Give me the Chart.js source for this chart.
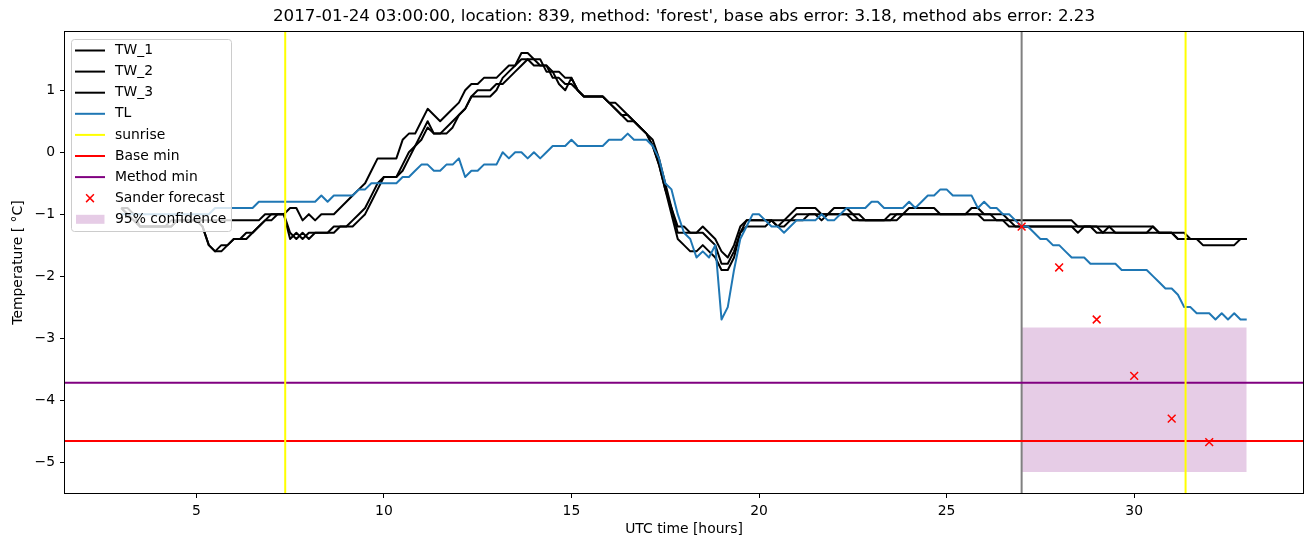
<!DOCTYPE html>
<html>
<head>
<meta charset="utf-8">
<script src="https://cdn.jsdelivr.net/npm/chart.js@4.4.1/dist/chart.umd.min.js"></script>
<style>
  html, body { margin: 0; padding: 0; background: #fff; }
  #wrap { width: 1313px; height: 547px; }
</style>
</head>
<body>
<div id="wrap"><canvas id="chart" width="1313" height="547"></canvas></div>
<script>
// samples every 10 minutes, starting 03:00 (hours since 00:00 of the day before)
const startHour = 3;
const stepHours = 1 / 6;

// one row per hour (6 samples), last value is 33:00
const tw1 = [
  -0.9, -0.9, -1.0, -1.2, -1.2, -1.2,   // 3
  -1.2, -1.2, -1.1, -1.1, -1.1, -1.1,   // 4
  -1.1, -1.1, -1.1, -1.1, -1.1, -1.1,   // 5
  -1.1, -1.1, -1.1, -1.1, -1.1, -1.0,   // 6
  -1.0, -1.0, -1.0, -0.9, -0.9, -1.1,   // 7
  -1.0, -1.1, -1.0, -1.0, -1.0, -0.9,   // 8
  -0.8, -0.7, -0.6, -0.5, -0.3, -0.1,   // 9
  -0.1, -0.1, -0.1, 0.2, 0.3, 0.3,      // 10
  0.5, 0.7, 0.6, 0.5, 0.6, 0.7,         // 11
  0.8, 1.0, 1.1, 1.1, 1.2, 1.2,         // 12
  1.2, 1.3, 1.4, 1.4, 1.5, 1.5,         // 13
  1.5, 1.4, 1.4, 1.3, 1.3, 1.2,         // 14
  1.2, 1.0, 0.9, 0.9, 0.9, 0.9,         // 15
  0.8, 0.7, 0.6, 0.6, 0.5, 0.4,         // 16
  0.3, 0.1, -0.2, -0.6, -0.9, -1.2,     // 17
  -1.2, -1.3, -1.3, -1.2, -1.3, -1.4,   // 18
  -1.6, -1.7, -1.5, -1.2, -1.1, -1.1,   // 19
  -1.1, -1.1, -1.1, -1.2, -1.1, -1.0,   // 20
  -0.9, -0.9, -0.9, -0.9, -1.0, -1.0,   // 21
  -0.9, -0.9, -0.9, -1.0, -1.1, -1.1,   // 22
  -1.1, -1.1, -1.1, -1.1, -1.0, -1.0,   // 23
  -0.9, -0.9, -0.9, -0.9, -0.9, -1.0,   // 24
  -1.0, -1.0, -1.0, -1.0, -0.9, -0.9,   // 25
  -1.0, -1.0, -1.0, -1.0, -1.1, -1.1,   // 26
  -1.1, -1.1, -1.1, -1.1, -1.1, -1.1,   // 27
  -1.1, -1.1, -1.1, -1.2, -1.2, -1.2,   // 28
  -1.2, -1.2, -1.2, -1.2, -1.2, -1.2,   // 29
  -1.2, -1.2, -1.2, -1.2, -1.3, -1.3,   // 30
  -1.3, -1.3, -1.3, -1.4, -1.4, -1.4,   // 31
  -1.4, -1.4, -1.4, -1.4, -1.4, -1.4,   // 32
  -1.4
];

const tw2 = [
  -0.9, -1.0, -1.1, -1.2, -1.2, -1.2,
  -1.2, -1.2, -1.2, -1.1, -1.1, -1.1,
  -1.1, -1.2, -1.5, -1.6, -1.5, -1.5,
  -1.4, -1.4, -1.4, -1.3, -1.2, -1.1,
  -1.1, -1.0, -1.0, -1.4, -1.3, -1.4,
  -1.3, -1.3, -1.3, -1.3, -1.2, -1.2,
  -1.2, -1.1, -1.0, -0.9, -0.7, -0.5,
  -0.4, -0.4, -0.4, -0.2, 0.0, 0.1,
  0.3, 0.5, 0.3, 0.3, 0.3, 0.4,
  0.6, 0.7, 0.9, 0.9, 0.9, 0.9,
  1.0, 1.2, 1.3, 1.4, 1.6, 1.6,
  1.5, 1.5, 1.3, 1.3, 1.1, 1.0,
  1.2, 1.0, 0.9, 0.9, 0.9, 0.9,
  0.8, 0.7, 0.6, 0.5, 0.5, 0.4,
  0.3, 0.1, -0.2, -0.6, -1.0, -1.4,
  -1.5, -1.6, -1.6, -1.5, -1.6, -1.7,
  -1.9, -1.9, -1.7, -1.3, -1.2, -1.2,
  -1.2, -1.2, -1.1, -1.2, -1.2, -1.1,
  -1.1, -1.1, -1.0, -1.0, -1.1, -1.0,
  -1.0, -1.0, -1.0, -1.1, -1.1, -1.1,
  -1.1, -1.1, -1.1, -1.1, -1.1, -1.0,
  -1.0, -1.0, -1.0, -1.0, -1.0, -1.0,
  -1.0, -1.0, -1.0, -1.0, -1.0, -1.0,
  -1.1, -1.1, -1.1, -1.1, -1.1, -1.2,
  -1.2, -1.2, -1.2, -1.2, -1.2, -1.2,
  -1.2, -1.2, -1.2, -1.3, -1.2, -1.2,
  -1.3, -1.3, -1.2, -1.3, -1.3, -1.3,
  -1.3, -1.3, -1.3, -1.2, -1.3, -1.3,
  -1.3, -1.4, -1.4, -1.4, -1.4, -1.5,
  -1.5, -1.5, -1.5, -1.5, -1.5, -1.4,
  -1.4
];

const tw3 = [
  -0.9, -1.0, -1.1, -1.2, -1.2, -1.2,
  -1.2, -1.2, -1.2, -1.1, -1.1, -1.1,
  -1.1, -1.2, -1.5, -1.6, -1.6, -1.5,
  -1.4, -1.4, -1.3, -1.3, -1.2, -1.1,
  -1.0, -1.0, -1.0, -1.3, -1.4, -1.3,
  -1.4, -1.3, -1.3, -1.3, -1.3, -1.2,
  -1.2, -1.2, -1.1, -1.0, -0.8, -0.6,
  -0.4, -0.4, -0.4, -0.3, -0.1, 0.1,
  0.2, 0.4, 0.3, 0.3, 0.4, 0.5,
  0.6, 0.7, 0.9, 1.0, 1.0, 1.0,
  1.1, 1.1, 1.2, 1.3, 1.4, 1.5,
  1.4, 1.4, 1.4, 1.2, 1.2, 1.1,
  1.1, 1.0, 0.9, 0.9, 0.9, 0.9,
  0.8, 0.8, 0.7, 0.6, 0.5, 0.4,
  0.3, 0.2, -0.1, -0.5, -0.9, -1.3,
  -1.3, -1.3, -1.3, -1.3, -1.4, -1.5,
  -1.8, -1.8, -1.6, -1.3, -1.1, -1.1,
  -1.1, -1.1, -1.1, -1.1, -1.1, -1.1,
  -1.0, -1.0, -1.0, -1.0, -1.0, -1.0,
  -1.0, -1.0, -1.0, -1.0, -1.0, -1.1,
  -1.1, -1.1, -1.1, -1.0, -1.0, -1.0,
  -1.0, -1.0, -1.0, -1.0, -1.0, -1.0,
  -1.0, -1.0, -1.0, -1.0, -1.0, -1.0,
  -1.0, -1.0, -1.1, -1.1, -1.2, -1.2,
  -1.2, -1.2, -1.2, -1.2, -1.2, -1.2,
  -1.2, -1.2, -1.2, -1.2, -1.2, -1.2,
  -1.2, -1.3, -1.3, -1.3, -1.3, -1.3,
  -1.3, -1.3, -1.3, -1.3, -1.3, -1.3,
  -1.3, -1.4, -1.4, -1.4, -1.4, -1.4,
  -1.4, -1.4, -1.4, -1.4, -1.4, -1.4,
  -1.4
];

const tl = [
  -1.0, -1.0, -1.0, -1.0, -1.0, -1.0,
  -1.0, -1.0, -1.0, -1.0, -1.0, -1.0,
  -1.0, -1.0, -1.0, -0.9, -0.9, -0.9,
  -0.9, -0.9, -0.9, -0.9, -0.8, -0.8,
  -0.8, -0.8, -0.8, -0.8, -0.8, -0.8,
  -0.8, -0.8, -0.7, -0.8, -0.7, -0.7,
  -0.7, -0.7, -0.6, -0.6, -0.5, -0.5,
  -0.5, -0.5, -0.5, -0.4, -0.4, -0.3,
  -0.2, -0.2, -0.3, -0.3, -0.2, -0.2,
  -0.1, -0.4, -0.3, -0.3, -0.2, -0.2,
  -0.2, 0.0, -0.1, 0.0, 0.0, -0.1,
  0.0, -0.1, 0.0, 0.1, 0.1, 0.1,
  0.2, 0.1, 0.1, 0.1, 0.1, 0.1,
  0.2, 0.2, 0.2, 0.3, 0.2, 0.2,
  0.2, 0.1, -0.1, -0.5, -0.6, -1.0,
  -1.3, -1.4, -1.7, -1.6, -1.7, -1.5,
  -2.7, -2.5, -1.9, -1.4, -1.2, -1.0,
  -1.0, -1.1, -1.2, -1.2, -1.3, -1.2,
  -1.1, -1.1, -1.1, -1.1, -1.0, -1.1,
  -1.1, -1.0, -0.9, -0.9, -0.9, -0.9,
  -0.8, -0.8, -0.9, -0.9, -0.9, -0.9,
  -0.8, -0.9, -0.8, -0.7, -0.7, -0.6,
  -0.6, -0.7, -0.7, -0.7, -0.7, -0.9,
  -0.8, -0.9, -0.9, -1.0, -1.0, -1.1,
  -1.2, -1.2, -1.3, -1.4, -1.4, -1.5,
  -1.5, -1.6, -1.7, -1.7, -1.7, -1.8,
  -1.8, -1.8, -1.8, -1.8, -1.9, -1.9,
  -1.9, -1.9, -1.9, -2.0, -2.1, -2.2,
  -2.2, -2.3, -2.5, -2.5, -2.6, -2.6,
  -2.6, -2.7, -2.6, -2.7, -2.6, -2.7,
  -2.7
];

const forecastHours = [27, 28, 29, 30, 31, 32];
const forecastTemps = [-1.20, -1.86, -2.70, -3.61, -4.30, -4.68];

const sunriseHours = [7.37, 31.37];
const nowHour = 27;
const baseMin = -4.66;
const methodMin = -3.72;
const confHours = [27, 33];
const confTemps = [-5.16, -2.83];   // low, high

const xTicks = [5, 10, 15, 20, 25, 30];
const yTicks = [-5, -4, -3, -2, -1, 0, 1];
const xLimits = [1.5, 34.5];
const yLimits = [-5.5, 1.94];

const titleText = "2017-01-24 03:00:00, location: 839, method: 'forest', base abs error: 3.18, method abs error: 2.23";

const times = tw1.map((_, i) => startHour + i * stepHours);
const xy = vals => vals.map((v, i) => ({ x: times[i], y: v }));
const vline = x => [{ x: x, y: yLimits[0] }, { x: x, y: yLimits[1] }];
const hline = y => [{ x: xLimits[0], y: y }, { x: xLimits[1], y: y }];

Chart.defaults.font.family = "'DejaVu Sans', sans-serif";
Chart.defaults.font.size = 13.9;
Chart.defaults.color = '#000';

const base = { pointRadius: 0, borderWidth: 2, borderJoinStyle: 'round', fill: false, tension: 0 };

const datasets = [
  { ...base, label: 'TW_1', data: xy(tw1), borderColor: '#000000', order: 4 },
  { ...base, label: 'TW_2', data: xy(tw2), borderColor: '#000000', order: 4 },
  { ...base, label: 'TW_3', data: xy(tw3), borderColor: '#000000', order: 4 },
  { ...base, label: 'TL', data: xy(tl), borderColor: '#1f77b4', order: 3 },
  { ...base, label: 'sunrise', data: vline(sunriseHours[0]), borderColor: '#ffff00', order: 1 },
  { ...base, label: '_sunrise2', data: vline(sunriseHours[1]), borderColor: '#ffff00', order: 1 },
  { ...base, label: 'Base min', data: hline(baseMin), borderColor: '#ff0000', order: 1 },
  { ...base, label: 'Method min', data: hline(methodMin), borderColor: '#800080', order: 1 },
  { label: 'Sander forecast', data: forecastHours.map((h, i) => ({ x: h, y: forecastTemps[i] })),
    showLine: false, pointStyle: 'crossRot', pointRadius: 5.5, pointBorderWidth: 1.5,
    borderColor: '#ff0000', backgroundColor: '#ff0000', order: 0 },
  { label: '95% confidence', data: confHours.map(h => ({ x: h, y: confTemps[1] })),
    fill: { value: confTemps[0] }, backgroundColor: 'rgba(128,0,128,0.2)',
    borderWidth: 0, pointRadius: 0, order: 2 },
  { ...base, label: '_now', data: vline(nowHour), borderColor: '#808080', order: 1 }
];

// top/right spines + frame like matplotlib
const framePlugin = {
  id: 'frame',
  afterDatasetsDraw(chart) {
    const { ctx, chartArea: a } = chart;
    ctx.save();
    ctx.strokeStyle = '#000';
    ctx.lineWidth = 1;
    ctx.strokeRect(a.left - 0.5, a.top - 0.5, a.right - a.left + 1, a.bottom - a.top + 1);
    ctx.restore();
  }
};

const titlePlugin = {
  id: 'mplTitle',
  afterDraw(chart) {
    const { ctx, chartArea: a } = chart;
    ctx.save();
    ctx.font = "16.7px 'DejaVu Sans', sans-serif";
    ctx.fillStyle = '#000';
    ctx.textAlign = 'center';
    ctx.textBaseline = 'middle';
    ctx.fillText(titleText, (a.left + a.right) / 2, 17);
    ctx.restore();
  }
};

const legendPlugin = {
  id: 'mplLegend',
  afterDraw(chart) {
    const ctx = chart.ctx;
    const items = chart.data.datasets.filter(d => !d.label.startsWith('_'));
    const x0 = 71.5, y0 = 39.5, w = 160, h = 192, r = 3;
    ctx.save();
    ctx.beginPath();
    ctx.moveTo(x0 + r, y0);
    ctx.arcTo(x0 + w, y0, x0 + w, y0 + h, r);
    ctx.arcTo(x0 + w, y0 + h, x0, y0 + h, r);
    ctx.arcTo(x0, y0 + h, x0, y0, r);
    ctx.arcTo(x0, y0, x0 + w, y0, r);
    ctx.closePath();
    ctx.fillStyle = 'rgba(255,255,255,0.8)';
    ctx.fill();
    ctx.strokeStyle = '#cccccc';
    ctx.lineWidth = 1;
    ctx.stroke();

    ctx.font = "13.9px 'DejaVu Sans', sans-serif";
    ctx.textBaseline = 'middle';
    ctx.textAlign = 'left';
    items.forEach((d, i) => {
      const y = 50.5 + i * 21.1;
      if (d.showLine === false) {
        ctx.strokeStyle = d.borderColor;
        ctx.lineWidth = 1.5;
        const s = 3.9;
        ctx.beginPath();
        ctx.moveTo(90 - s, y - s); ctx.lineTo(90 + s, y + s);
        ctx.moveTo(90 - s, y + s); ctx.lineTo(90 + s, y - s);
        ctx.stroke();
      } else if (d.fill) {
        ctx.fillStyle = d.backgroundColor;
        ctx.fillRect(76, y - 4.5, 28.5, 9);
      } else {
        ctx.strokeStyle = d.borderColor;
        ctx.lineWidth = 2;
        ctx.beginPath();
        ctx.moveTo(75, y); ctx.lineTo(105, y);
        ctx.stroke();
      }
      ctx.fillStyle = '#000';
      ctx.fillText(d.label, 115, y);
    });
    ctx.restore();
  }
};

const minus = v => String(v).replace('-', '\u2212');

new Chart(document.getElementById('chart').getContext('2d'), {
  type: 'line',
  data: { datasets: datasets },
  options: {
    responsive: false,
    animation: false,
    devicePixelRatio: 1,
    layout: { padding: { left: 0, right: 10, top: 32, bottom: 0 } },
    plugins: { legend: { display: false }, tooltip: { enabled: false }, title: { display: false } },
    events: [],
    scales: {
      x: {
        type: 'linear',
        min: xLimits[0], max: xLimits[1],
        afterBuildTicks: s => { s.ticks = xTicks.map(v => ({ value: v })); },
        afterFit: s => { s.height = 54; },
        ticks: { padding: 5, callback: minus, maxRotation: 0 },
        grid: { display: true, drawOnChartArea: false, drawTicks: true, tickLength: 5, color: '#000' },
        border: { display: false },
        title: { display: true, text: 'UTC time [hours]', padding: { top: 0, bottom: 9.7 } }
      },
      y: {
        type: 'linear',
        min: yLimits[0], max: yLimits[1],
        afterBuildTicks: s => { s.ticks = yTicks.map(v => ({ value: v })); },
        afterFit: s => { s.width = 65; },
        ticks: { padding: 5, callback: minus },
        grid: { display: true, drawOnChartArea: false, drawTicks: true, tickLength: 5, color: '#000' },
        border: { display: false },
        title: { display: true, text: 'Temperature [ °C]', padding: { top: 9.7, bottom: 0 } }
      }
    }
  },
  plugins: [framePlugin, legendPlugin, titlePlugin]
});
</script>
</body>
</html>
